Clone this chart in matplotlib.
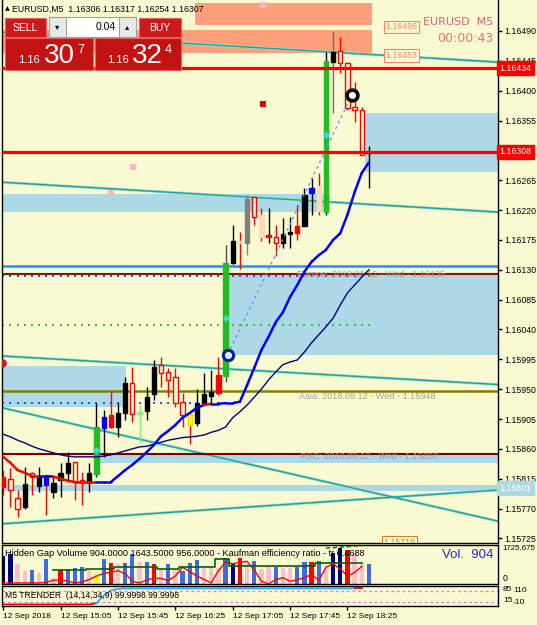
import matplotlib
matplotlib.use("Agg")
import matplotlib.pyplot as plt
import matplotlib.transforms as mtransforms
from matplotlib.patches import Rectangle
import numpy as np

plt.rcParams['font.family'] = ['Liberation Sans', 'DejaVu Sans']

W, H = 537, 625
BG = '#FAFAD2'
LEFT, RIGHT = -0.18, 69.0

# --- Свечи EURUSD M5, 12 Sep 2018 14:25 ... 18:40 ---
opens = [1.15817, 1.15814, 1.15786, 1.15773, 1.15823, 1.15804, 1.15817, 1.15795, 1.15813, 1.15823,
         1.15840, 1.15813, 1.15808, 1.15822, 1.15891, 1.15893, 1.15893, 1.15914, 1.15959, 1.15914,
         1.15917, 1.15942, 1.15987, 1.15976, 1.15968, 1.15930, 1.15912, 1.15899, 1.15929, 1.15939,
         1.15944, 1.15970, 1.16140, 1.16170, 1.16170, 1.16240, 1.16213, 1.16182, 1.16179, 1.16170,
         1.16184, 1.16185, 1.16196, 1.16246, 1.16256, 1.16217, 1.16443, 1.16460, 1.16442, 1.16375,
         1.16371, 1.16306]
highs = [1.15828, 1.15831, 1.15798, 1.15832, 1.15825, 1.15832, 1.15819, 1.15819, 1.15838, 1.15855,
         1.15840, 1.15825, 1.15838, 1.15929, 1.15918, 1.15945, 1.15929, 1.15968, 1.15983, 1.15926,
         1.15953, 1.15994, 1.15999, 1.15982, 1.15982, 1.15944, 1.15914, 1.15950, 1.15974, 1.15979,
         1.15999, 1.16167, 1.16198, 1.16187, 1.16243, 1.16240, 1.16223, 1.16223, 1.16198, 1.16208,
         1.16210, 1.16228, 1.16253, 1.16268, 1.16276, 1.16458, 1.16490, 1.16481, 1.16443, 1.16413,
         1.16375, 1.16317]
lows = [1.15790, 1.15772, 1.15757, 1.15770, 1.15790, 1.15795, 1.15760, 1.15786, 1.15787, 1.15810,
        1.15783, 1.15775, 1.15795, 1.15817, 1.15847, 1.15891, 1.15878, 1.15903, 1.15900, 1.15869,
        1.15903, 1.15933, 1.15953, 1.15938, 1.15923, 1.15893, 1.15867, 1.15894, 1.15926, 1.15926,
        1.15941, 1.15961, 1.16139, 1.16131, 1.16152, 1.16198, 1.16173, 1.16170, 1.16151, 1.16163,
        1.16163, 1.16175, 1.16196, 1.16213, 1.16213, 1.16213, 1.16366, 1.16427, 1.16371, 1.16353,
        1.16303, 1.16254]
closes = [1.15802, 1.15798, 1.15770, 1.15807, 1.15817, 1.15817, 1.15805, 1.15808, 1.15823, 1.15838,
          1.15810, 1.15808, 1.15823, 1.15893, 1.15908, 1.15911, 1.15914, 1.15959, 1.15912, 1.15913,
          1.15938, 1.15983, 1.15974, 1.15964, 1.15929, 1.15911, 1.15896, 1.15929, 1.15942, 1.15945,
          1.15971, 1.16140, 1.16173, 1.16173, 1.16237, 1.16210, 1.16179, 1.16179, 1.16170, 1.16184,
          1.16187, 1.16196, 1.16243, 1.16253, 1.16219, 1.16445, 1.16458, 1.16442, 1.16374, 1.16371,
          1.16303, 1.16307]
candle_kind = ['rf', 'h', 'h', 'k', 'h', 'k', 'bl', 'k', 'k', 'k', 'h', 'h', 'k', 'g', 'bl', 'rf',
               'k', 'k', 'h', 'lg', 'k', 'k', 'h', 'h', 'h', 'h', 'y', 'k', 'k', 'k', 'rf', 'g',
               'k', 'p', 'gr', 'h', 'p', 'rf', 'h', 'k', 'k', 'rf', 'k', 'bl', 'p', 'g', 'k', 'h',
               'h', 'h', 'h', 'k']

# --- Скользящие средние ---
fast_ma = [1.15848, 1.15839, 1.15828, 1.15824, 1.15819, 1.15819, 1.15819, 1.15818, 1.15815, 1.15812,
           1.15810, 1.15810, 1.15810, 1.15810, 1.15810, 1.15810, 1.15819, 1.15828, 1.15836, 1.15845,
           1.15855, 1.15866, 1.15879, 1.15887, 1.15896, 1.15907, 1.15914, 1.15922, 1.15926, 1.15928,
           1.15928, 1.15929, 1.15929, 1.15931, 1.15956, 1.15982, 1.16009, 1.16029, 1.16051, 1.16066,
           1.16089, 1.16107, 1.16127, 1.16142, 1.16152, 1.16160, 1.16175, 1.16185, 1.16213, 1.16247,
           1.16276, 1.16292]
fast_ma_down = [0, 1, 2, 3, 4, 7, 8, 9, 10, 11, 12, 28]
slow_ma = [1.15882, 1.15878, 1.15873, 1.15869, 1.15864, 1.15860, 1.15857, 1.15854, 1.15851, 1.15849,
           1.15848, 1.15848, 1.15848, 1.15848, 1.15849, 1.15851, 1.15854, 1.15857, 1.15860, 1.15863,
           1.15864, 1.15867, 1.15870, 1.15873, 1.15875, 1.15877, 1.15878, 1.15879, 1.15881, 1.15885,
           1.15888, 1.15893, 1.15907, 1.15916, 1.15926, 1.15938, 1.15950, 1.15964, 1.15976, 1.15987,
           1.15991, 1.15994, 1.16006, 1.16020, 1.16032, 1.16044, 1.16057, 1.16077, 1.16095, 1.16107,
           1.16119, 1.16130]

# --- Зоны (начало, конец в барах, низ, верх) ---
salmon_zones = [(26.7, 51.4, 1.16499, 1.16532), (LEFT, 51.4, 1.16457, 1.16491)]
blue_zones = [(50.4, RIGHT, 1.16277, 1.16366), (LEFT, 45.6, 1.16217, 1.16244),
              (31.3, RIGHT, 1.16002, 1.16122), (LEFT, 17.1, 1.15923, 1.15985),
              (13.5, RIGHT, 1.15839, 1.15851), (LEFT, RIGHT, 1.15797, 1.15806)]
# --- Трендовые линии (бар0, цена0, бар1, цена1) ---
trend_lines = [(LEFT, 1.16488, RIGHT, 1.16443), (LEFT, 1.16262, RIGHT, 1.16217),
               (LEFT, 1.16000, RIGHT, 1.15957), (LEFT, 1.15922, RIGHT, 1.15751),
               (LEFT, 1.15747, RIGHT, 1.15798)]

price_ticks = [1.16490, 1.16445, 1.16400, 1.16355, 1.16265, 1.16220, 1.16175, 1.16130, 1.16085,
               1.16040, 1.15995, 1.15950, 1.15905, 1.15860, 1.15815, 1.15770, 1.15725]

# --- Объёмы (Hidden Gap Volume) ---
volumes = [1244, 1337, 902, 591, 638, 498, 1104, 280, 638, 669, 731, 778, 638, 435, 1104, 949,
           902, 949, 1337, 980, 980, 871, 669, 902, 669, 591, 949, 1057, 793, 778, 715, 1151,
           949, 1151, 902, 1026, 669, 746, 746, 715, 700, 746, 980, 980, 1011, 715, 1369, 1602,
           1524, 1369, 949, 904]
vol_kind = ['n', 'n', 'p', 'p', 'b', 'p', 'b', 'p', 'r', 'b', 'b', 'b', 'p', 'y', 'b', 'r',
            'p', 'b', 'b', 'p', 'b', 'r', 'p', 'b', 'p', 'b', 'b', 'b', 'p', 'p', 'p', 'b',
            'n', 'r', 'p', 'b', 'p', 'p', 'b', 'p', 'p', 'b', 'b', 'r', 'b', 'p', 'n', 'n',
            'r', 'p', 'p', 'b']
kaufman = [47, 47, 47, 47, 47, 47, 78, 171, 187, 124, 47, 93, 202, 358, 467, 529, 591, 467, 124,
           47, 171, 264, 249, 156, 358, 746, 560, 358, 202, 47, 591, 980, 902, 964, 1011, 622,
           124, 0, 202, 280, 124, 187, 280, 435, 156, 746, 902, 669, 358, 513, 778]
vol_avg = [622, 622, 622, 622, 622, 669, 669, 669, 669, 778, 778, 778, 778, 778, 778, 669, 669,
           669, 746, 746, 746, 746, 746, 1135, 1135, 824, 824, 824, 824, 824, 824, 824, 824, 824,
           824, 824, 824, 933, 933, 933, 933, 933, 933, 933]
vol_avg_start = 7
vol_top = [1602, 1620, 1645, 1665, 1690, 1711]
vol_top_start = 45

# --- M5 TRENDER ---
trender = [0, 0, 0, 0, 0, 0, 0, 0, 0, 0, 0, 0, 0, 8, 55, 88, 97, 100, 100, 100, 100, 100, 100,
           100, 100, 100, 100, 100, 100, 100, 100, 100, 100, 100, 100, 100, 100, 100, 100, 100,
           100, 100, 100, 100, 100, 100, 100, 100, 100, 100, 100]
trender_up_from, trender_up_to = 13, 49

time_ticks = [0, 8, 16, 24, 32, 40, 48]
time_labels = ['12 Sep 2018', '12 Sep 15:05', '12 Sep 15:45', '12 Sep 16:25',
               '12 Sep 17:05', '12 Sep 17:45', '12 Sep 18:25']

bars = np.arange(len(opens))

fig = plt.figure(figsize=(W / 100, H / 100), dpi=100, facecolor=BG)


def pane(x0, y0, x1, y1):
    a = fig.add_axes([x0 / W, 1 - y1 / H, (x1 - x0) / W, (y1 - y0) / H])
    a.set_facecolor(BG)
    a.set_xlim(LEFT, RIGHT)
    for s in a.spines.values():
        s.set_color('black')
        s.set_linewidth(1)
    return a


# --- Основной график ---
ax = pane(2, 0, 498, 543)
ax.set_ylim(1.157181, 1.165367)
ax.spines['top'].set_visible(False)
ax.set_xticks([])
ax.yaxis.tick_right()
ax.set_yticks(price_ticks)
ax.set_yticklabels([f'{p:.5f}' for p in price_ticks])
ax.tick_params(axis='y', length=3, width=1, labelsize=6.3, pad=1.5)

for x0, x1, lo, hi in salmon_zones:
    ax.add_patch(Rectangle((x0, lo), x1 - x0, hi - lo, fc='#FFA07A', ec='none', zorder=0.5))
for x0, x1, lo, hi in blue_zones:
    ax.add_patch(Rectangle((x0, lo), x1 - x0, hi - lo, fc='#ADD8E6', ec='none', zorder=0.6))

for x0, p0, x1, p1 in trend_lines:
    ax.plot([x0, x1], [p0, p1], color='#9ADFC8', lw=2.0, zorder=1)
    ax.plot([x0, x1], [p0, p1], color='#1CA29C', lw=1.0, zorder=1.1)

ax.hlines(1.16135, LEFT, RIGHT, color='#1E90FF', lw=1.8, zorder=2)
ax.hlines(1.16124, LEFT, RIGHT, color='#8B1010', lw=1.5, zorder=2)
ax.hlines(1.15948, LEFT, RIGHT, color='#808000', lw=1.8, zorder=2)
ax.hlines(1.15853, LEFT, RIGHT, color='#800000', lw=1.5, zorder=2)
ax.scatter(bars, [1.16120] * len(bars), marker='s', s=1.5, color='#3050FF', lw=0, zorder=2)
ax.scatter(bars, [1.16047] * len(bars), marker='s', s=1.5, color='#40C040', lw=0, zorder=2)
ax.scatter(bars[:32], [1.15929] * 32, marker='s', s=1.5, color='#3050FF', lw=0, zorder=2)

ax.text(41.0, 1.16130, 'Europe: 2018.09.12 - Wed - 1.16135', color='#A0A0A0', fontsize=6.6,
        va='top', ha='left', zorder=2.2)
ax.text(41.3, 1.15945, 'Asia: 2018.09.12 - Wed - 1.15948', color='#A0A0A0', fontsize=6.6,
        va='top', ha='left', zorder=2.2)
ax.text(41.4, 1.15848, 'PSC: 2018.09.12 - Wed - 1.15850', color='#A0A0A0', fontsize=6.6,
        va='center', ha='left', zorder=2.2, style='italic')

# --- свечи ---
kinds = {'k': ('black', 'black', 'black'), 'h': (BG, 'red', 'red'), 'rf': ('red', 'red', 'red'),
         'bl': ('#0000FF', '#0000FF', 'black'), 'g': ('#22BB22', '#22BB22', 'black'),
         'lg': ('#80F080', '#80F080', '#80F080'), 'y': ('#FFFF00', '#E0E000', 'red'),
         'p': ('#FFDAB9', '#FFDAB9', 'red'), 'gr': ('#808080', '#808080', '#808080')}
wick_fix = {6: 'red', 31: '#505050', 37: 'black', 46: '#707070'}
for i in bars:
    fc, ec, wc = kinds[candle_kind[i]]
    wc = wick_fix.get(i, wc)
    ax.vlines(i, lows[i], highs[i], color=wc, lw=1, zorder=3)
    lo, hi = min(opens[i], closes[i]), max(opens[i], closes[i])
    ax.add_patch(Rectangle((i - 0.3, lo), 0.6, max(hi - lo, 0.00002), fc=fc, ec=ec, lw=1, zorder=4))

# --- MA ---
ax.plot(bars, slow_ma, color='#000080', lw=1, zorder=5)
for i in range(len(fast_ma) - 1):
    c = 'red' if i in fast_ma_down else '#0000FF'
    ax.plot([i, i + 1], fast_ma[i:i + 2], color=c, lw=1.8, zorder=5.1, solid_capstyle='round')

ax.plot([31.3, 48.6], [1.16002, 1.16393], color='#6495ED', lw=1, ls=(0, (2, 2.5)), zorder=5)

# горизонтальные красные уровни
ax.hlines([1.16434, 1.16308], LEFT, RIGHT, color='#FF0000', lw=2.3, zorder=6)

# маркеры
ax.scatter([31.3], [1.16002], s=55, marker='o', fc='#E0F0FF', ec='#0020A0', lw=2.2, zorder=7)
ax.scatter([48.6], [1.16393], s=60, marker='o', fc='white', ec='black', lw=2.6, zorder=7)
ax.scatter([13, 31, 45], [1.15858, 1.16057, 1.16333], s=14, marker='D', color='#30E0E0', lw=0, zorder=7)
ax.scatter([36.2], [1.16380], s=22, marker='s', color='#E00000', lw=0, zorder=7)
ax.scatter([18.1, 15.0, 36.2], [1.16285, 1.16246, 1.16529], s=18, marker='s', color='#FFB6C1', lw=0, zorder=7)
ax.scatter([LEFT], [1.15989], s=40, marker='o', color='#C02020', lw=0, zorder=7, clip_on=True)

for p, c in [(1.16496, '#FA8072'), (1.16453, '#FA8072')]:
    ax.text(53.3, p, f'{p:.5f}', color=c, fontsize=6.3, va='center', ha='left', zorder=8,
            bbox=dict(boxstyle='square,pad=0.2', fc=BG, ec=c, lw=0.8))
ax.text(53.0, 1.15719, '1.15719', color='#D08020', fontsize=6.3, va='center', ha='left', zorder=8,
        clip_on=True, bbox=dict(boxstyle='square,pad=0.2', fc=BG, ec='#D08020', lw=0.8))

trans = mtransforms.blended_transform_factory(ax.transAxes, ax.transData)
for p, fc in [(1.16434, '#FF0000'), (1.16308, '#FF0000'), (1.15801, '#ADD8E6')]:
    ax.text(1.003, p, f'{p:.5f}', transform=trans, color='white', fontsize=6.3, va='center',
            ha='left', zorder=20, bbox=dict(boxstyle='square,pad=0.3', fc=fc, ec=fc))

# --- Панель объёмов ---
axv = pane(2, 545, 498, 584)
axv.set_ylim(0, 1740)
axv.set_xticks([])
axv.set_yticks([])
vcol = {'n': '#00007F', 'p': '#FFC0CB', 'b': '#4169E1', 'r': '#FF0000', 'y': '#FFFF00'}
axv.bar(bars, volumes, width=0.6, color=[vcol[k] for k in vol_kind], zorder=2)
axv.plot(bars[:len(kaufman)], kaufman, color='red', lw=1, zorder=3)
axv.plot(np.arange(vol_avg_start, vol_avg_start + len(vol_avg)), vol_avg, color='#006400',
         lw=1.2, drawstyle='steps-mid', zorder=3)
axv.plot(np.arange(vol_top_start, vol_top_start + len(vol_top)), vol_top, color='#006400',
         lw=1, ls=(0, (3, 2)), zorder=3)
axv.text(0.006, 0.9, 'Hidden Gap Volume 904.0000 1643.5000 956.0000 - Kaufman efficiency ratio - tr 0.4688',
         transform=axv.transAxes, fontsize=6.6, va='top', ha='left', zorder=4)
axv.text(0.99, 0.9, 'Vol.  904', transform=axv.transAxes, fontsize=9.5, color='#2828E0',
         va='top', ha='right', zorder=4)
transv = mtransforms.blended_transform_factory(axv.transAxes, axv.transData)
axv.text(1.008, 1725.675, '1725.675', transform=transv, fontsize=5.7, va='top', ha='left')
axv.text(1.01, 60, '0', transform=transv, fontsize=6.3, va='bottom', ha='left')

# --- M5 TRENDER ---
axt = pane(2, 586, 498, 606)
axt.set_ylim(-10, 115)
axt.set_yticks([])
axt.hlines([85, 15], LEFT, RIGHT, color='#E080E0', lw=1, ls=(0, (2, 2)), zorder=1)
tb = np.arange(len(trender))
axt.plot(tb[:trender_up_from + 1], trender[:trender_up_from + 1], color='red', lw=1.3, zorder=2)
axt.plot(tb[trender_up_from:trender_up_to + 1], trender[trender_up_from:trender_up_to + 1],
         color='#33AAFF', lw=1.3, zorder=2)
axt.plot(tb[trender_up_to:], trender[trender_up_to:], color='red', lw=1.3, zorder=2)
axt.text(0.006, 0.55, 'M5 TRENDER  (14,14,34,9) 99.9998 99.9998', transform=axt.transAxes,
         fontsize=6.2, va='center', ha='left', zorder=4)
transt = mtransforms.blended_transform_factory(axt.transAxes, axt.transData)
axt.text(1.01, 96, '85', transform=transt, fontsize=6, va='center', ha='left')
axt.text(1.03, 88, '110', transform=transt, fontsize=6, va='center', ha='left')
axt.text(1.01, 22, '15', transform=transt, fontsize=6, va='center', ha='left')
axt.text(1.03, 12, '-10', transform=transt, fontsize=6, va='center', ha='left')
axt.set_xticks(time_ticks)
axt.set_xticklabels(time_labels, ha='left')
axt.tick_params(axis='x', length=3, width=1, labelsize=6, pad=2)

# --- Заголовок и панель торговли в один клик (в пикселях) ---
ov = fig.add_axes([0, 0, 1, 1], zorder=10)
ov.set_xlim(0, W)
ov.set_ylim(H, 0)
ov.axis('off')
ov.patch.set_alpha(0)

ov.text(5, 9, '▲', fontsize=4.5, va='center', ha='left', family='DejaVu Sans')
ov.text(12, 9, 'EURUSD,M5  1.16306 1.16317 1.16254 1.16307', fontsize=6.3, va='center', ha='left')
ov.text(493, 22, 'EURUSD  M5', fontsize=8, va='center', ha='right', color='#E0607A', family='DejaVu Sans')
ov.text(493, 38, '00:00:43', fontsize=9, va='center', ha='right', color='#F07070', family='DejaVu Sans')

RED = '#CC1A1A'
ov.add_patch(Rectangle((5, 18), 41, 19, fc=RED, ec='#E06060', lw=0.8))
ov.add_patch(Rectangle((139, 18), 42, 19, fc=RED, ec='#E06060', lw=0.8))
ov.text(25.5, 28, 'SELL', color='white', fontsize=7.5, va='center', ha='center')
ov.text(160, 28, 'BUY', color='white', fontsize=7.5, va='center', ha='center')
ov.add_patch(Rectangle((49, 17), 87, 20, fc='white', ec='#A0A0A0', lw=0.8))
ov.add_patch(Rectangle((49, 17), 17, 20, fc='#E8E8E8', ec='#A0A0A0', lw=0.8))
ov.add_patch(Rectangle((119, 17), 17, 20, fc='#E8E8E8', ec='#A0A0A0', lw=0.8))
ov.text(57.5, 27, '▾', fontsize=6, va='center', ha='center', family='DejaVu Sans')
ov.text(127.5, 27, '▴', fontsize=6, va='center', ha='center', family='DejaVu Sans')
ov.text(116, 27, '0.04', fontsize=7.5, va='center', ha='right')

ov.add_patch(Rectangle((5, 38), 88, 32, fc='#C41212', ec='#E06060', lw=0.8))
ov.add_patch(Rectangle((95, 38), 86, 32, fc='#C41212', ec='#E06060', lw=0.8))
for x_small, x_big, x_sup, big, sup in [(18, 44, 77, '30', '7'), (107, 132, 165, '32', '4')]:
    ov.text(x_small, 63, '1.16', color='white', fontsize=8, va='baseline', ha='left')
    ov.text(x_big, 63, big, color='white', fontsize=20, va='baseline', ha='left')
    ov.text(x_sup, 53, sup, color='white', fontsize=9, va='baseline', ha='left')

fig.savefig('out.png', dpi=100, facecolor=BG)
